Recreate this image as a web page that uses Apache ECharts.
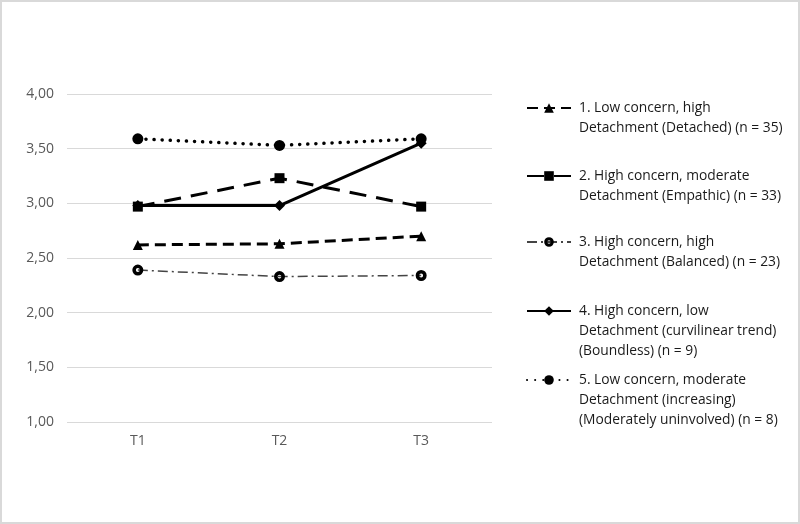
<!DOCTYPE html>
<html>
<head>
<meta charset="utf-8">
<script src="https://cdn.jsdelivr.net/npm/echarts@6/dist/echarts.min.js"></script>
<style>
  html, body { margin: 0; padding: 0; background: #fff; }
  #chart { width: 800px; height: 524px; box-sizing: border-box; border: 2px solid #d9d9d9; }
</style>
</head>
<body>
<div id="chart"></div>
<script>
// time points
var times = ['T1', 'T2', 'T3'];

// mean scores per profile
var detached = [2.62, 2.63, 2.70];
var empathic = [2.97, 3.23, 2.97];
var balanced = [2.39, 2.33, 2.34];
var boundless = [2.98, 2.98, 3.55];
var uninvolved = [3.59, 3.53, 3.59];

var names = [
  '1. Low concern, high\nDetachment (Detached) (n = 35)',
  '2. High concern, moderate\nDetachment (Empathic) (n = 33)',
  '3. High concern, high\nDetachment (Balanced) (n = 23)',
  '4. High concern, low\nDetachment (curvilinear trend)\n(Boundless) (n = 9)',
  '5. Low concern, moderate\nDetachment (increasing)\n(Moderately uninvolved) (n = 8)'
];

var font = '"Open Sans", sans-serif';
var lh = 20;
// thick ring marker (black with a small hole)
var ring = 'path://M0,-10A10,10 0 1,1 0,10A10,10 0 1,1 0,-10ZM0,-3.5A3.5,3.5 0 1,0 0,3.5A3.5,3.5 0 1,0 0,-3.5Z';
var chart = echarts.init(document.getElementById('chart'));

// one legend per entry; blank lines in front keep the first line level with the icon
var firstLineY = [106, 174, 240, 309, 378];
var legends = names.map(function (n, i) {
  var lines = n.split('\n').length;
  return {
    data: [n],
    orient: 'vertical',
    left: 524,
    top: firstLineY[i] - (lines - 1) * lh - lh / 2,
    padding: 0,
    itemWidth: 44,
    itemHeight: 12,
    selectedMode: false,
    formatter: function (name) {
      return new Array(lines).join('\n') + name;
    },
    textStyle: {
      fontFamily: font,
      fontSize: 13.8,
      color: '#1a1a1a',
      lineHeight: lh,
      padding: [0, 0, 0, 3]
    }
  };
});

var option = {
  animation: false,
  backgroundColor: '#fff',
  grid: { left: 65, right: 306, top: 92, bottom: 100 },
  legend: legends,
  xAxis: {
    type: 'category',
    data: times,
    boundaryGap: true,
    axisLine: { show: false },
    axisTick: { show: false },
    axisLabel: { color: '#595959', fontFamily: font, fontSize: 14, margin: 12 }
  },
  yAxis: {
    type: 'value',
    min: 1,
    max: 4,
    interval: 0.5,
    axisLine: { show: false },
    axisTick: { show: false },
    splitLine: { lineStyle: { color: '#d9d9d9', width: 1 } },
    axisLabel: {
      color: '#595959', fontFamily: font, fontSize: 14, margin: 13,
      formatter: function (v) { return v.toFixed(2).replace('.', ','); }
    }
  },
  series: [
    {
      name: names[0], type: 'line', data: detached,
      symbol: 'triangle', symbolSize: 10,
      itemStyle: { color: '#000' },
      lineStyle: { color: '#000', width: 3, type: [11, 6] }
    },
    {
      name: names[1], type: 'line', data: empathic,
      symbol: 'rect', symbolSize: 10,
      itemStyle: { color: '#000' },
      lineStyle: { color: '#000', width: 3, type: [17, 10] }
    },
    {
      name: names[2], type: 'line', data: balanced,
      symbol: ring, symbolSize: 11,
      itemStyle: { color: '#000' },
      lineStyle: { color: '#444', width: 1.5, type: [10, 4, 2, 4] }
    },
    {
      name: names[3], type: 'line', data: boundless,
      symbol: 'diamond', symbolSize: 11,
      itemStyle: { color: '#000' },
      lineStyle: { color: '#000', width: 3, type: 'solid' }
    },
    {
      name: names[4], type: 'line', data: uninvolved,
      symbol: 'circle', symbolSize: 11,
      itemStyle: { color: '#000' },
      lineStyle: { color: '#000', width: 3.5, type: [0.1, 8], cap: 'round' }
    }
  ]
};

chart.setOption(option);
</script>
</body>
</html>
